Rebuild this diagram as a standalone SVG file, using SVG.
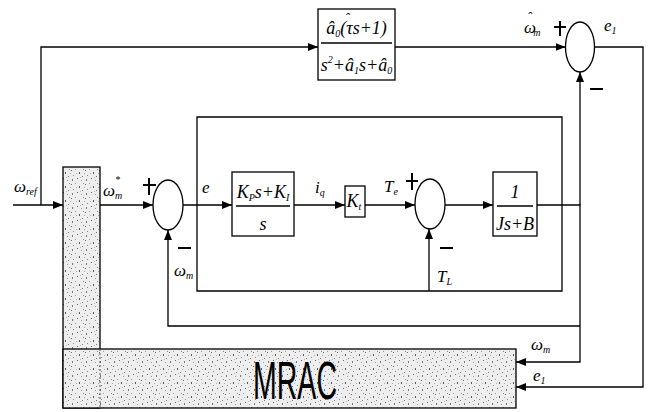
<svg xmlns="http://www.w3.org/2000/svg" width="652" height="412" viewBox="0 0 652 412">
<style>
.ln{fill:none;stroke:#000;stroke-width:1.3}
.bx{fill:#fff;stroke:#000;stroke-width:1.3}
.sum{fill:#fff;stroke:#000;stroke-width:1.3}
.sg{stroke:#000;stroke-width:2;fill:none}
.t{font-family:"Liberation Serif",serif;font-style:italic;font-size:17px;fill:#000}
.b{font-size:18px}
.s{font-size:10px}
.h{font-size:14px}
.sh{fill:url(#stip);stroke:#000;stroke-width:1.3}
.mr{font-family:"Liberation Sans",Arial,sans-serif;font-size:54px;fill:#000}
</style>
<defs>
<marker id="ar" markerWidth="10" markerHeight="8" refX="10" refY="4" orient="auto" markerUnits="userSpaceOnUse"><path d="M0,0 L10,4 L0,8 Z" fill="#000"/></marker>
<pattern id="stip" width="14" height="14" patternUnits="userSpaceOnUse">
<rect width="14" height="14" fill="#eeeeee"/>
<rect x="1" y="2" width="1" height="1" fill="#666"/>
<rect x="5" y="1" width="1" height="1" fill="#999"/>
<rect x="9" y="4" width="1" height="2" fill="#555"/>
<rect x="12" y="8" width="1" height="1" fill="#777"/>
<rect x="3" y="7" width="1" height="1" fill="#888"/>
<rect x="7" y="10" width="1" height="1" fill="#666"/>
<rect x="11" y="12" width="1" height="1" fill="#999"/>
<rect x="2" y="11" width="1" height="2" fill="#777"/>
<rect x="6" y="5" width="1" height="1" fill="#aaa"/>
<rect x="13" y="1" width="1" height="1" fill="#888"/>
<rect x="0" y="5" width="1" height="1" fill="#aaa"/>
<rect x="10" y="9" width="1" height="1" fill="#bbb"/>
</pattern>
</defs>

<g id="mrac">
<rect class="sh" x="63" y="167" width="37" height="241"/>
<rect class="sh" x="63" y="349" width="453" height="59"/>
<line x1="100" y1="349" x2="100" y2="408" stroke="#555" stroke-width="1" stroke-dasharray="2,2"/>
<text class="mr" x="253" y="399" textLength="84" lengthAdjust="spacingAndGlyphs">MRAC</text>
</g>

<g id="connectors">
<path class="ln" d="M13,205 H63" marker-end="url(#ar)"/>
<path class="ln" d="M41,205 V47 H318" marker-end="url(#ar)"/>
<path class="ln" d="M395,47 H565.5" marker-end="url(#ar)"/>
<path class="ln" d="M594.5,47 H643 V387 H516" marker-end="url(#ar)"/>
<path class="ln" d="M537,205 H580 V362 H516" marker-end="url(#ar)"/>
<path class="ln" d="M580,205 V72" marker-end="url(#ar)"/>
<path class="ln" d="M580,326 H168 V230" marker-end="url(#ar)"/>
<path class="ln" d="M100,205 H153" marker-end="url(#ar)"/>
<path class="ln" d="M183,205 H232" marker-end="url(#ar)"/>
<path class="ln" d="M294,205 H345" marker-end="url(#ar)"/>
<path class="ln" d="M365,205 H415" marker-end="url(#ar)"/>
<path class="ln" d="M445,205 H493" marker-end="url(#ar)"/>
<path class="ln" d="M429,291 V229" marker-end="url(#ar)"/>
<path class="ln" d="M197,117 H562 V291 H197 Z"/>
</g>

<g id="ref-model">
<rect class="bx" x="318" y="9" width="77" height="71"/>
<text class="t b" x="356.5" y="34" text-anchor="middle">â<tspan class="s" dy="3">0</tspan><tspan dy="-3">(τ</tspan><tspan class="h" dx="-8" dy="-11">ˆ</tspan><tspan dx="3.3" dy="11">s+1)</tspan></text>
<line x1="321" y1="43" x2="392" y2="43" stroke="#000" stroke-width="1.3"/>
<text class="t b" x="356.5" y="71" text-anchor="middle">s<tspan class="s" dy="-8">2</tspan><tspan dy="8">+â</tspan><tspan class="s" dy="3">1</tspan><tspan dy="-3">s+â</tspan><tspan class="s" dy="3">0</tspan></text>
</g>

<g id="sum2">
<ellipse class="sum" cx="580" cy="47" rx="14.5" ry="25"/>
<path class="sg" d="M554,27 H566 M560,21 V36 M590,89 H603"/>
</g>

<g id="sum1">
<ellipse class="sum" cx="168" cy="205" rx="15" ry="25"/>
<path class="sg" d="M143,185 H156 M149,178 V195 M178,248 H191"/>
</g>

<g id="pi">
<rect class="bx" x="232" y="172" width="62" height="64"/>
<text class="t b" x="263" y="198" text-anchor="middle">K<tspan class="s" dy="3">P</tspan><tspan dy="-3">s+K</tspan><tspan class="s" dy="3">I</tspan></text>
<line x1="236" y1="206" x2="290" y2="206" stroke="#000" stroke-width="1.3"/>
<text class="t b" x="263" y="230" text-anchor="middle">s</text>
</g>

<g id="kt">
<rect class="bx" x="345" y="186" width="20" height="31"/>
<text class="t b" x="354" y="207" text-anchor="middle">K<tspan class="s" dy="3">t</tspan></text>
</g>

<g id="sum3">
<ellipse class="sum" cx="430" cy="204" rx="15" ry="25"/>
<path class="sg" d="M406,181 H418 M412,173 V190 M440,248 H453"/>
</g>

<g id="plant">
<rect class="bx" x="493" y="172" width="44" height="64"/>
<text class="t b" x="515" y="198" text-anchor="middle">1</text>
<line x1="497" y1="206" x2="533" y2="206" stroke="#000" stroke-width="1.3"/>
<text class="t b" x="515" y="230" text-anchor="middle">Js+B</text>
</g>

<g id="labels">
<text class="t" x="14" y="192">ω<tspan class="s" dy="3">ref</tspan></text>
<text class="t" x="103" y="196">ω<tspan class="s" dy="-13">*</tspan><tspan class="s" dx="-5" dy="16">m</tspan></text>
<text class="t" x="202" y="193">e</text>
<text class="t" x="315" y="193">i<tspan class="s" dy="3">q</tspan></text>
<text class="t" x="384" y="192">T<tspan class="s" dy="3">e</tspan></text>
<text class="t" x="437" y="282">T<tspan class="s" dy="3">L</tspan></text>
<text class="t" x="174" y="276">ω<tspan class="s" dy="3">m</tspan></text>
<text class="t" x="524" y="33">ω<tspan class="h" dx="-9" dy="-11">ˆ</tspan><tspan class="s" dx="1.5" dy="14">m</tspan></text>
<text class="t" x="604" y="31">e<tspan class="s" dy="3">1</tspan></text>
<text class="t" x="531" y="350">ω<tspan class="s" dy="3">m</tspan></text>
<text class="t" x="533" y="381">e<tspan class="s" dy="3">1</tspan></text>
</g>
</svg>
